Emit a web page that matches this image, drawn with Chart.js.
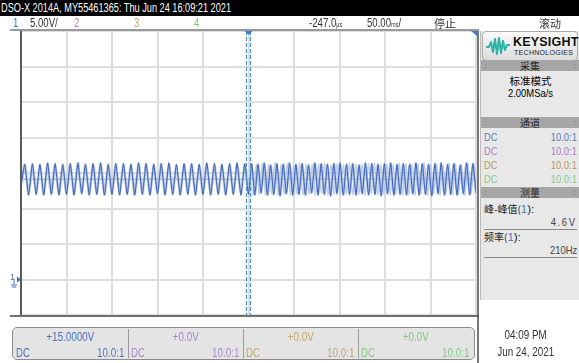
<!DOCTYPE html>
<html>
<head>
<meta charset="utf-8">
<script src="https://cdn.jsdelivr.net/npm/chart.js@4.4.1/dist/chart.umd.min.js"></script>
<style>
  html, body { margin: 0; padding: 0; }
  body { width: 579px; height: 363px; position: relative; overflow: hidden; background: #fff;
         font-family: "Liberation Sans", "DejaVu Sans", sans-serif; }
  #scope { position: absolute; left: 0; top: 0; }
  .abs { position: absolute; white-space: nowrap; }
  .cjk { font-family: "Noto Sans CJK SC", sans-serif; }
  .nl { display: inline-block; transform: scaleX(0.8); transform-origin: left center; }
  .nr { display: inline-block; transform: scaleX(0.82); transform-origin: right center; }
  .nc { display: inline-block; transform: scaleX(0.82); transform-origin: center center; }
  #titlebar { left: 0; top: 0; width: 579px; height: 16px; background: #000; color: #fff;
              font-size: 12px; line-height: 16px; }
  #titlebar span { transform: scaleX(0.765); margin-left: 1px; }
  .hdr { top: 16px; font-size: 12px; line-height: 14px; color: #333; }
  #panel { left: 480px; top: 31px; width: 98px; height: 269px; background: #e8e8e8;
           border-left: 1px solid #bbb; }
  .ph { position: absolute; left: 0; width: 98px; height: 11px; background: #a6a6a6; color: #222;
        font-size: 10px; line-height: 11px; text-align: center; }
  .ph .dl, .ph .dr { position: absolute; top: 0; font-size: 7px; color: #777; letter-spacing: -1px; }
  .ph .dl { left: 3px; } .ph .dr { right: 4px; }
  .row { position: absolute; left: 3px; width: 93px; font-size: 11.5px; line-height: 13px; }
  .row .r { position: absolute; right: 0; top: 0; }
  #logo { left: 482px; top: 31px; width: 94px; height: 28px; border: 1px solid #aaa; border-radius: 4px;
          background: linear-gradient(#fafafa, #dcdcdc); }
  #chbar { left: 12px; top: 327px; width: 461px; height: 31px; border: 1px solid #8a8a8a; border-radius: 5px;
           background: #e4e4e4; }
  .cell { position: absolute; top: 0; height: 31px; width: 115px; font-size: 12px; }
  .cell .v { position: absolute; left: 0; width: 115px; top: 2px; text-align: center; }
  .cell .dc { position: absolute; left: 3px; top: 18px; }
  .cell .pr { position: absolute; right: 4px; top: 18px; }
  .sep { position: absolute; top: 1px; width: 1px; height: 29px; background: #9a9a9a; }
</style>
</head>
<body>
<canvas id="scope" width="579" height="363"></canvas>

<div id="titlebar" class="abs"><span class="nl">DSO-X 2014A, MY55461365: Thu Jun 24 16:09:21 2021</span></div>

<div class="abs hdr" style="left:13px;color:#4a74c4;"><span class="nl">1</span></div>
<div class="abs hdr" style="left:30px;"><span class="nl">5.00V/</span></div>
<div class="abs hdr" style="left:74px;color:#a48ac8;"><span class="nl">2</span></div>
<div class="abs hdr" style="left:134px;color:#c2a86a;"><span class="nl">3</span></div>
<div class="abs hdr" style="left:194px;color:#78c878;"><span class="nl">4</span></div>
<div class="abs hdr" style="left:309px;"><span class="nl">-247.0<span style="font-size:7px;">µs</span></span></div>
<div class="abs hdr" style="left:367px;"><span class="nl">50.00<span style="font-size:7px;">ms</span>/</span></div>
<div class="abs hdr cjk" style="left:434px;font-size:11px;">停止</div>
<div class="abs hdr cjk" style="left:539px;font-size:11px;">滚动</div>

<div id="panel" class="abs">
  <div class="ph" style="top:29px;"><span class="dl">::</span><span class="cjk">采集</span><span class="dr">::</span></div>
  <div class="row cjk" style="top:43px;text-align:center;font-size:10.5px;">标准模式</div>
  <div class="row" style="top:56px;text-align:center;"><span class="nc">2.00MSa/s</span></div>
  <div class="ph" style="top:86px;"><span class="dl">::</span><span class="cjk">通道</span><span class="dr">::</span></div>
  <div class="row" style="top:100px;color:#5a7cc0;"><span class="nl">DC</span><span class="r nr">10.0:1</span></div>
  <div class="row" style="top:114px;color:#a67fc4;"><span class="nl">DC</span><span class="r nr">10.0:1</span></div>
  <div class="row" style="top:128px;color:#b89a5c;"><span class="nl">DC</span><span class="r nr">10.0:1</span></div>
  <div class="row" style="top:142px;color:#86cc86;"><span class="nl">DC</span><span class="r nr">10.0:1</span></div>
  <div class="ph" style="top:156px;"><span class="dl">::</span><span class="cjk">测量</span><span class="dr">::</span></div>
  <div class="row" style="top:171px;color:#222;"><span class="cjk" style="font-size:10px;">峰-峰值(</span><span style="color:#4a74c4;">1</span>):</div>
  <div class="row" style="top:185px;color:#444;text-align:right;"><span class="nr" style="letter-spacing:2px;">4.6V</span></div>
  <div class="abs" style="left:3px;top:198px;width:93px;height:1px;background:#888;"></div>
  <div class="row" style="top:199px;color:#222;"><span class="cjk" style="font-size:10px;">频率(</span><span style="color:#4a74c4;">1</span>):</div>
  <div class="row" style="top:213px;color:#444;text-align:right;"><span class="nr">210Hz</span></div>
  <div class="abs" style="left:3px;top:226px;width:93px;height:1px;background:#888;"></div>
</div>

<div id="logo" class="abs">
  <svg class="abs" style="left:2px;top:4px;" width="26" height="20" viewBox="0 0 26 20">
    <polyline points="1,11 4,11 6,6 8,16 10,3 12,18 14,2 16,17 18,5 20,14 22,9 25,9"
              fill="none" stroke="#2bb3a3" stroke-width="2" stroke-linejoin="round"/>
  </svg>
  <div class="abs" style="left:30px;top:3px;font-weight:bold;font-size:12.5px;color:#111;letter-spacing:0.2px;">KEYSIGHT</div>
  <div class="abs" style="left:31px;top:17px;font-size:7px;color:#222;letter-spacing:0.3px;">TECHNOLOGIES</div>
</div>

<div id="chbar" class="abs">
  <div class="cell" style="left:0;color:#4a74c4;"><div class="v"><span class="nc">+15.0000V</span></div><div class="dc"><span class="nl">DC</span></div><div class="pr"><span class="nr">10.0:1</span></div></div>
  <div class="sep" style="left:115px;"></div>
  <div class="cell" style="left:115px;color:#a48ac8;"><div class="v"><span class="nc">+0.0V</span></div><div class="dc"><span class="nl">DC</span></div><div class="pr"><span class="nr">10.0:1</span></div></div>
  <div class="sep" style="left:230px;"></div>
  <div class="cell" style="left:230px;color:#c2a86a;"><div class="v"><span class="nc">+0.0V</span></div><div class="dc"><span class="nl">DC</span></div><div class="pr"><span class="nr">10.0:1</span></div></div>
  <div class="sep" style="left:345px;"></div>
  <div class="cell" style="left:345px;color:#82c882;"><div class="v"><span class="nc">+0.0V</span></div><div class="dc"><span class="nl">DC</span></div><div class="pr"><span class="nr">10.0:1</span></div></div>
</div>

<div class="abs" style="left:496px;top:328px;width:60px;text-align:center;font-size:12px;color:#333;"><span class="nc">04:09 PM</span></div>
<div class="abs" style="left:491px;top:345px;width:70px;text-align:center;font-size:12px;color:#333;"><span class="nc">Jun 24, 2021</span></div>

<div class="abs" style="left:10px;top:272px;font-size:9px;color:#4a74c4;">1</div>

<script>
// Channel 1 trace (volts), peak/trough samples before the trigger point (-250..0 ms)
const preTrigger = [13.2, 16.2, 11.9, 16.3, 12.0, 16.2, 11.9, 16.4, 12.0, 16.3, 11.9, 16.2, 12.0, 16.3,
  11.9, 16.4, 12.1, 16.2, 11.9, 16.3, 12.0, 16.4, 11.9, 16.2, 12.0, 16.3, 11.9, 16.3, 12.0, 16.2,
  11.9, 16.4, 12.0, 16.3, 11.9, 16.2, 12.1, 16.3, 11.9, 16.4, 12.0, 16.2, 11.9, 16.3, 12.0, 16.3,
  11.9, 16.2, 12.0, 16.4, 11.9, 16.3, 12.0, 16.2, 11.9, 16.3, 12.0, 16.4, 11.9, 16.3, 12.0];
// Channel 1 trace (volts), peak/trough samples after the trigger point (0..250 ms)
const postTrigger = [12.0, 16.3, 11.9, 16.2, 12.2, 16.4, 11.9, 16.1, 12.0, 16.3, 11.8, 16.2, 12.1, 16.4,
  11.9, 16.2, 12.0, 16.3, 11.9, 16.1, 12.2, 16.4, 11.9, 16.3, 12.0, 16.2, 11.8, 16.3, 12.1, 16.4,
  11.9, 16.2, 12.0, 16.3, 11.9, 16.1, 12.1, 16.4, 11.9, 16.3, 12.0, 16.2, 11.8, 16.3, 12.1, 16.4,
  11.9, 16.2, 12.0, 16.3, 11.9, 16.2, 12.1, 16.4, 11.9, 16.3, 12.0, 16.2, 11.8, 16.3, 12.1, 16.4,
  11.9, 16.2, 12.0, 16.3, 11.9, 16.1, 12.1, 16.4, 11.9, 16.3, 12.2];
// Persistence samples overlapping the post-trigger trace (volts)
const postGhost = [14.1, 11.9, 16.2, 12.0, 16.3, 11.9, 16.2, 12.1, 16.4, 11.9, 16.2, 12.0, 16.3, 11.9,
  16.1, 12.1, 16.4, 11.9, 16.3, 12.0, 16.2, 11.8, 16.3, 12.1, 16.4, 11.9, 16.2, 12.0, 16.3, 11.9,
  16.1, 12.1, 16.4, 11.9, 16.3, 12.0, 16.2, 11.8, 16.3, 12.1, 16.4, 11.9, 16.2, 12.0, 16.3, 11.9,
  16.2, 12.1, 16.4, 11.9, 16.3, 12.0, 16.2, 11.8, 16.3, 12.1, 16.4, 11.9, 16.2, 12.0, 16.3, 11.9,
  16.1, 12.1, 16.4, 11.9, 16.3, 12.0, 16.2, 11.8, 16.3, 12.1, 16.2];

const timeRangeMs = [-250, 250];     // 10 div x 50 ms/div
const voltRange = [-5, 35];          // 8 div x 5 V/div, offset +15 V
const preSpanMs = [-250, 0];
const postSpanMs = [0, 250];
const ghostSpanMs = [1.6, 248];
const triggerLevelV = 14.2;

function toPoints(vals, span) {
  const step = (span[1] - span[0]) / (vals.length - 1);
  return vals.map((v, i) => ({ x: span[0] + i * step, y: v }));
}
const tracePoints = toPoints(preTrigger, preSpanMs).concat(toPoints(postTrigger, postSpanMs).slice(1));
const ghostPoints = toPoints(postGhost, ghostSpanMs);

const frame = {
  id: 'frame',
  beforeDatasetsDraw(chart) {
    const { ctx, chartArea: a, scales } = chart;
    const yT = scales.y.getPixelForValue(triggerLevelV);
    ctx.save();
    ctx.strokeStyle = '#6d93d0';
    ctx.lineWidth = 1;
    ctx.beginPath(); ctx.moveTo(a.left, yT + 0.5); ctx.lineTo(a.right, yT + 0.5); ctx.stroke();
    ctx.restore();
  },
  afterDraw(chart) {
    const { ctx, chartArea: a, scales } = chart;
    ctx.save();
    // border lines
    ctx.strokeStyle = '#9a9a9a'; ctx.lineWidth = 2;
    ctx.beginPath(); ctx.moveTo(10, a.top - 1); ctx.lineTo(a.right + 3, a.top - 1); ctx.stroke();
    ctx.strokeStyle = '#707070';
    ctx.beginPath(); ctx.moveTo(10, a.bottom + 1); ctx.lineTo(a.right + 3, a.bottom + 1); ctx.stroke();
    ctx.strokeStyle = '#5a5a5a';
    ctx.beginPath(); ctx.moveTo(a.left, a.top); ctx.lineTo(a.left, a.bottom); ctx.stroke();
    // trigger time markers
    const x0 = scales.x.getPixelForValue(0);
    ctx.setLineDash([4, 2]);
    ctx.lineWidth = 1.2;
    ctx.strokeStyle = '#4f8fd6';
    ctx.beginPath(); ctx.moveTo(x0 - 2, a.top); ctx.lineTo(x0 - 2, a.bottom); ctx.stroke();
    ctx.beginPath(); ctx.moveTo(x0 + 2, a.top); ctx.lineTo(x0 + 2, a.bottom); ctx.stroke();
    ctx.setLineDash([]);
    ctx.fillStyle = '#3f7fd0';
    ctx.beginPath(); ctx.moveTo(x0 - 4, a.top); ctx.lineTo(x0 + 4, a.top); ctx.lineTo(x0, a.top + 4); ctx.closePath(); ctx.fill();
    ctx.beginPath(); ctx.moveTo(a.right - 5, a.top); ctx.lineTo(a.right + 1, a.top); ctx.lineTo(a.right + 1, a.top + 5); ctx.closePath(); ctx.fill();
    // channel 1 ground marker
    const yG = scales.y.getPixelForValue(0);
    ctx.fillStyle = '#3f6fc4';
    ctx.beginPath(); ctx.moveTo(a.left - 4, yG - 3); ctx.lineTo(a.left, yG); ctx.lineTo(a.left - 4, yG + 3); ctx.closePath(); ctx.fill();
    ctx.strokeStyle = '#3f6fc4'; ctx.lineWidth = 1;
    ctx.beginPath();
    ctx.moveTo(a.left - 7, yG); ctx.lineTo(a.left - 7, yG + 5);
    ctx.moveTo(a.left - 10, yG + 5.5); ctx.lineTo(a.left - 4, yG + 5.5);
    ctx.moveTo(a.left - 9, yG + 7.5); ctx.lineTo(a.left - 5, yG + 7.5);
    ctx.stroke();
    // right panel separator
    ctx.strokeStyle = '#4a4a4a'; ctx.lineWidth = 1.5;
    ctx.beginPath(); ctx.moveTo(478, a.top); ctx.lineTo(478, 363); ctx.stroke();
    ctx.restore();
  }
};

new Chart(document.getElementById('scope'), {
  type: 'line',
  data: {
    datasets: [
      { data: tracePoints, borderColor: '#3a5db0', borderWidth: 1.0, pointRadius: 0, tension: 0.18, order: 0 },
      { data: tracePoints, borderColor: 'rgba(168,190,228,0.85)', borderWidth: 2.6, pointRadius: 0, tension: 0.18, order: 2 },
      { data: ghostPoints, borderColor: 'rgba(172,194,230,0.8)', borderWidth: 1.4, pointRadius: 0, tension: 0.18, order: 1 }
    ]
  },
  options: {
    responsive: false,
    devicePixelRatio: 1,
    animation: false,
    layout: { padding: { left: 21, top: 31, right: 103, bottom: 48 } },
    plugins: { legend: { display: false }, tooltip: { enabled: false } },
    scales: {
      x: {
        type: 'linear', min: timeRangeMs[0], max: timeRangeMs[1],
        ticks: { display: false, stepSize: 50 },
        grid: { color: '#dedede', lineWidth: 2, drawTicks: false },
        border: { display: false },
        afterFit(s) { s.height = 0; }
      },
      y: {
        min: voltRange[0], max: voltRange[1],
        ticks: { display: false, stepSize: 5 },
        grid: { color: '#dedede', lineWidth: 2, drawTicks: false },
        border: { display: false },
        afterFit(s) { s.width = 0; }
      }
    }
  },
  plugins: [frame]
});
</script>
</body>
</html>
